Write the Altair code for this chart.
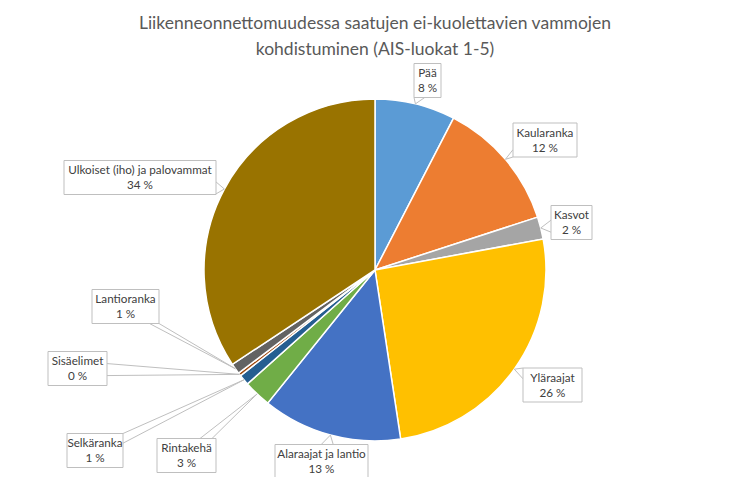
import math
import altair as alt
import pandas as pd

# ---------------- data ----------------
categories = ["Pää", "Kaularanka", "Kasvot", "Yläraajat", "Alaraajat ja lantio",
              "Rintakehä", "Selkäranka", "Sisäelimet", "Lantioranka",
              "Ulkoiset (iho) ja palovammat"]
shares = [7.6, 12.4, 2.1, 25.5, 13.2, 2.6, 1.0, 0.3, 1.0, 34.3]
shown_pct = [8, 12, 2, 26, 13, 3, 1, 0, 1, 34]
colors = ["#5B9BD5", "#ED7D31", "#A5A5A5", "#FFC000", "#4472C4",
          "#70AD47", "#255E91", "#9E480E", "#636363", "#997300"]
title_lines = ["Liikenneonnettomuudessa saatujen ei-kuolettavien vammojen",
               "kohdistuminen (AIS-luokat 1-5)"]

# ---------------- layout ----------------
W, H = 734, 469
CX, CY, R = 367, 262, 171
# label box centres relative to the pie centre, and box widths
label_offsets = [(52.5, -189.5), (170, -130), (196.5, -47.5), (177.5, 115),
                 (-53.5, 191.5), (-188.5, 185.5), (-280, 180.5), (-297.5, 98.5),
                 (-249.5, 36.5), (-235, -92.5)]
box_widths = [27, 64, 41, 59, 93, 59, 56, 59, 67, 152]
BOX_H = 34
LINE_H = 15
TAIL_HALF = 6
FONT = "Lato"

# ---------------- derived tables ----------------
pie_df = pd.DataFrame({"cat": categories, "share": shares,
                       "order": list(range(len(categories)))})

total = sum(shares)
rows, tails = [], []
cum = 0.0
for i, (name, s) in enumerate(zip(categories, shares)):
    mid = (cum + s / 2) / total * 2 * math.pi
    cum += s
    tipx = CX + R * math.sin(mid)
    tipy = CY - R * math.cos(mid)
    dx, dy = label_offsets[i]
    bx, by = CX + dx, CY + dy
    hw, hh = box_widths[i] / 2, BOX_H / 2
    rows.append({"x": bx - hw, "x2": bx + hw, "y": by - hh, "y2": by + hh,
                 "cx": bx, "cy": by - LINE_H / 2, "txt": f"{name}\n{shown_pct[i]} %"})
    ddx, ddy = tipx - bx, tipy - by
    tx = hw / abs(ddx) if ddx else 1e9
    ty = hh / abs(ddy) if ddy else 1e9
    t = min(tx, ty)
    ex, ey = bx + t * ddx, by + t * ddy
    if tx < ty:  # exits through a vertical side
        pts = [(ex, min(max(ey - TAIL_HALF, by - hh), by + hh)),
               (ex, min(max(ey + TAIL_HALF, by - hh), by + hh))]
    else:
        pts = [(min(max(ex - TAIL_HALF, bx - hw), bx + hw), ey),
               (min(max(ex + TAIL_HALF, bx - hw), bx + hw), ey)]
    for px, py in pts:
        tails.append({"x": px, "y": py, "x2": tipx, "y2": tipy})

lab_df = pd.DataFrame(rows)
tail_df = pd.DataFrame(tails)
title_df = pd.DataFrame({"t": title_lines, "y": [20.5, 47], "x": [W / 2, W / 2]})

# ---------------- chart ----------------
pie = alt.Chart(pie_df).mark_arc(outerRadius=R, stroke="white", strokeWidth=1.5).encode(
    theta=alt.Theta("share:Q", stack=True),
    color=alt.Color("cat:N", scale=alt.Scale(domain=categories, range=colors), legend=None),
    order=alt.Order("order:Q"),
    x=alt.value(CX), y=alt.value(CY),
)

tail = alt.Chart(tail_df).mark_rule(color="#BFBFBF", strokeWidth=1).encode(
    x=alt.X("x:Q", scale=None), y=alt.Y("y:Q", scale=None),
    x2="x2:Q", y2="y2:Q",
)

boxes = alt.Chart(lab_df).mark_rect(fill="white", stroke="#BFBFBF", strokeWidth=1).encode(
    x=alt.X("x:Q", scale=None), x2="x2:Q",
    y=alt.Y("y:Q", scale=None), y2="y2:Q",
)

texts = alt.Chart(lab_df).mark_text(font=FONT, fontSize=11.7, color="#404040",
                                    lineBreak="\n", lineHeight=LINE_H, baseline="middle",
                                    align="center").encode(
    x=alt.X("cx:Q", scale=None), y=alt.Y("cy:Q", scale=None), text="txt:N",
)

title = alt.Chart(title_df).mark_text(font=FONT, fontSize=17.5, color="#595959",
                                      align="center", baseline="alphabetic").encode(
    x=alt.X("x:Q", scale=None), y=alt.Y("y:Q", scale=None), text="t:N",
)

chart = alt.layer(pie, tail, boxes, texts, title).properties(
    width=W, height=H, autosize=alt.AutoSizeParams(type="none"), padding=0
).configure_view(stroke=None)

chart.save("out.html", embed_options={"renderer": "svg", "actions": False})
